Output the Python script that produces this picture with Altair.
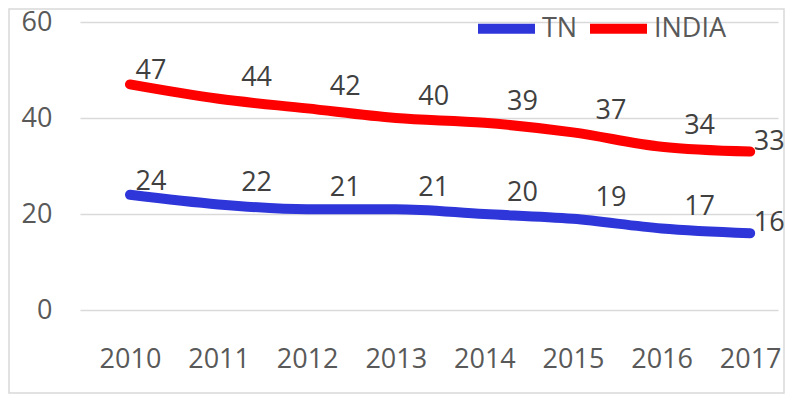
import altair as alt
import pandas as pd

years = [2010, 2011, 2012, 2013, 2014, 2015, 2016, 2017]
tn = [24, 22, 21, 21, 20, 19, 17, 16]
india = [47, 44, 42, 40, 39, 37, 34, 33]
series = ["TN", "INDIA"]
colors = ["#2E36DA", "#FF0000"]
y_ticks = [0, 20, 40, 60]

rows = []
for name, vals in zip(series, [tn, india]):
    for yr, v in zip(years, vals):
        rows.append({"year": yr, "series": name, "value": v})
df = pd.DataFrame(rows)

FONT = "Open Sans"
AXIS_COL = "#595959"
LABEL_COL = "#404040"

x_enc = alt.X(
    "year:Q",
    scale=alt.Scale(domain=[2009.436, 2017.314], nice=False, zero=False),
    axis=alt.Axis(values=years, format="d", title=None, grid=False, domain=False,
                  ticks=False, tickSize=0, labelFontSize=27, labelColor=AXIS_COL,
                  labelFont=FONT, labelPadding=36),
)
y_enc = alt.Y(
    "value:Q",
    scale=alt.Scale(domain=[0, 60], nice=False),
    axis=alt.Axis(values=y_ticks, title=None, domain=False, ticks=False, tickSize=0,
                  labelFontSize=27, labelColor=AXIS_COL, labelFont=FONT,
                  labelPadding=28, gridColor="#D9D9D9", gridWidth=1.5,
                  labelFlush=False),
)

base = alt.Chart(df)

lines = base.mark_line(strokeWidth=10, strokeCap="round", interpolate="monotone").encode(
    x=x_enc,
    y=y_enc,
    color=alt.Color(
        "series:N",
        scale=alt.Scale(domain=series, range=colors),
        legend=alt.Legend(orient="none", legendX=393, legendY=-27, direction="horizontal",
                          title=None, symbolType="stroke", symbolSize=3249,
                          symbolStrokeWidth=10, labelFontSize=27, labelFont=FONT,
                          labelColor=AXIS_COL, labelOffset=2, columnPadding=-8,
                          labelLimit=200),
    ),
    detail="series:N",
)

def value_labels(flt, dx, dy):
    return base.mark_text(dx=dx, dy=dy, fontSize=27, font=FONT, color=LABEL_COL).encode(
        x="year:Q", y="value:Q", text="value:Q"
    ).transform_filter(flt)

labels_first = value_labels(alt.datum.year == 2010, 21, -13)
labels_mid = value_labels((alt.datum.year > 2010) & (alt.datum.year < 2017), 38, -21)
labels_last = value_labels(alt.datum.year == 2017, 19, -10)

border = alt.Chart(pd.DataFrame({"a": [0]})).mark_rect(
    fill=None, stroke="#D9D9D9", strokeWidth=1.5
).encode(x=alt.value(-71), x2=alt.value(704), y=alt.value(-13), y2=alt.value(371))

chart = alt.layer(border, lines, labels_first, labels_mid, labels_last).properties(
    width=698,
    height=288,
    autosize=alt.AutoSizeParams(type="none"),
    padding={"left": 72, "top": 14, "right": 8, "bottom": 84},
).configure_view(stroke=None)

chart.save("out.html", embed_options={"renderer": "svg", "actions": False})
